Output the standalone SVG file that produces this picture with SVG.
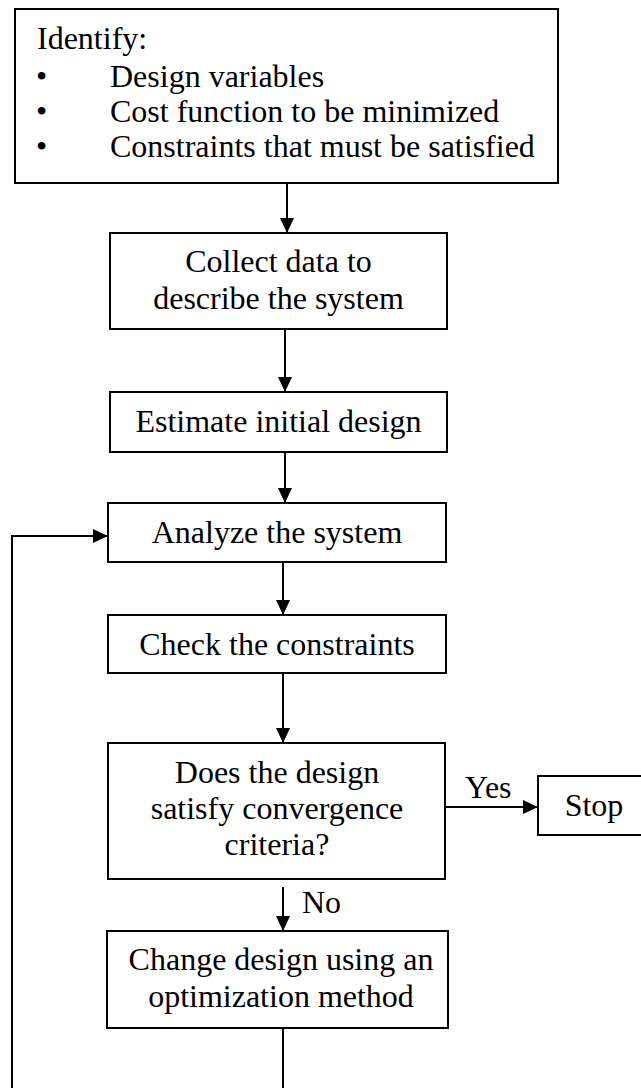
<svg xmlns="http://www.w3.org/2000/svg" width="641" height="1088" viewBox="0 0 641 1088">
<style>
.box{fill:#fff;stroke:#000;stroke-width:2}
.t{font-family:"Liberation Serif","Times New Roman",serif;font-size:32px;fill:#000}
.c{text-anchor:middle}
.ln{fill:none;stroke:#000;stroke-width:2}
</style>
<defs>
<marker id="ah" markerUnits="userSpaceOnUse" markerWidth="16" markerHeight="14" refX="15" refY="7" orient="auto">
<path d="M0,0 L15,7 L0,14 z" fill="#000"/>
</marker>
</defs>
<rect width="641" height="1088" fill="#fff"/>
<g id="connectors">
<line class="ln" x1="287" y1="183" x2="287" y2="233" marker-end="url(#ah)"/>
<line class="ln" x1="285" y1="329" x2="285" y2="392" marker-end="url(#ah)"/>
<line class="ln" x1="285" y1="452" x2="285" y2="503" marker-end="url(#ah)"/>
<line class="ln" x1="283" y1="562" x2="283" y2="615" marker-end="url(#ah)"/>
<line class="ln" x1="283" y1="673" x2="283" y2="743" marker-end="url(#ah)"/>
<line class="ln" x1="445" y1="807" x2="538" y2="807" marker-end="url(#ah)"/>
<line class="ln" x1="283" y1="887" x2="283" y2="931" marker-end="url(#ah)"/>
<path class="ln" d="M283,1028 V1100 H12 V536 H108" marker-end="url(#ah)"/>
<text class="t" x="465" y="798">Yes</text>
<text class="t" x="302" y="913">No</text>
</g>
<g id="identify">
<rect class="box" x="15" y="9" width="543" height="174"/>
<text class="t" x="37" y="49">Identify:</text>
<text class="t" x="36" y="87">•</text>
<text class="t" x="110" y="87">Design variables</text>
<text class="t" x="36" y="122">•</text>
<text class="t" x="110" y="122">Cost function to be minimized</text>
<text class="t" x="36" y="157">•</text>
<text class="t" x="110" y="157">Constraints that must be satisfied</text>
</g>
<g id="collect">
<rect class="box" x="110" y="233" width="337" height="96"/>
<text class="t c" x="278.5" y="272">Collect data to</text>
<text class="t c" x="278.5" y="309">describe the system</text>
</g>
<g id="estimate">
<rect class="box" x="110" y="392" width="337" height="60"/>
<text class="t c" x="278.5" y="432">Estimate initial design</text>
</g>
<g id="analyze">
<rect class="box" x="108" y="503" width="338" height="59"/>
<text class="t c" x="277" y="543">Analyze the system</text>
</g>
<g id="check">
<rect class="box" x="108" y="615" width="338" height="58"/>
<text class="t c" x="277" y="655">Check the constraints</text>
</g>
<g id="decision">
<rect class="box" x="108" y="743" width="337" height="136"/>
<text class="t c" x="277" y="783">Does the design</text>
<text class="t c" x="277" y="819">satisfy convergence</text>
<text class="t c" x="277" y="855">criteria?</text>
</g>
<g id="stop">
<rect class="box" x="538" y="776" width="114" height="59"/>
<text class="t c" x="594" y="816">Stop</text>
</g>
<g id="change">
<rect class="box" x="107" y="931" width="341" height="97"/>
<text class="t c" x="281" y="970">Change design using an</text>
<text class="t c" x="281" y="1007">optimization method</text>
</g>
</svg>
